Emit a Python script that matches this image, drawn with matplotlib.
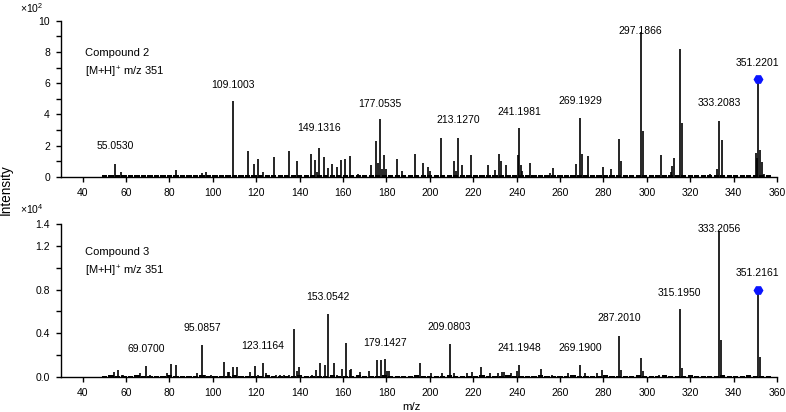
import numpy as np
import matplotlib
matplotlib.use("Agg")
import matplotlib.pyplot as plt

plt.rcParams['font.family'] = ['Liberation Sans', 'DejaVu Sans']
plt.rcParams['mathtext.default'] = 'regular'

# Compound 2 spectrum (intensity x10^2)
c2_mz = [55.05, 57.5, 83.0, 95.0, 97.0, 109.10, 116.0, 119.0, 121.0, 123.0,
         128.0, 135.0, 139.0, 145.0, 147.0, 148.0, 149.13, 151.0, 153.0, 155.0,
         157.0, 159.0, 161.0, 163.0, 167.0, 173.0, 175.0, 176.0, 177.05, 178.0,
         179.0, 180.0, 185.0, 187.0, 193.0, 197.0, 199.0, 200.0, 205.0, 211.0,
         212.0, 213.13, 215.0, 219.0, 227.0, 230.0, 232.0, 233.0, 235.0, 240.4,
         241.20, 242.0, 242.6, 246.0, 255.6, 256.9, 262.7, 267.4, 269.19, 270.2,
         273.0, 280.0, 283.5, 287.2, 288.2, 297.19, 298.2, 306.5, 311.1, 311.6,
         312.5, 315.2, 316.2, 320.0, 327.0, 329.0, 332.3, 333.21, 334.5, 341.5,
         347.0, 350.3, 350.8, 352.2, 353.1, 354.0]
c2_int = [0.80, 0.35, 0.43, 0.25, 0.30, 4.85, 1.67, 0.85, 1.18, 0.30,
          1.28, 1.67, 1.03, 1.50, 1.10, 0.35, 1.86, 1.28, 0.60, 0.85,
          0.65, 1.07, 1.18, 1.32, 0.20, 0.75, 2.29, 0.90, 3.70, 0.50,
          1.43, 0.50, 1.15, 0.40, 1.47, 0.90, 0.65, 0.40, 2.50, 1.05,
          0.40, 2.50, 0.75, 1.43, 0.75, 0.45, 1.47, 1.05, 0.75, 1.43,
          3.12, 0.75, 0.40, 0.88, 0.25, 0.58, 0.15, 0.80, 3.78, 1.47,
          1.37, 0.62, 0.50, 2.44, 1.05, 9.27, 2.97, 1.43, 0.35, 0.68,
          1.22, 8.16, 3.46, 0.15, 0.15, 0.20, 0.53, 3.61, 2.35, 0.15,
          0.15, 1.54, 1.20, 1.75, 0.96, 0.20]
c2_prec_mz = 351.22
c2_prec_int = 6.24
c2_prec_label = '351.2201'
c2_labels = ['55.0530', '109.1003', '149.1316', '177.0535', '213.1270',
             '241.1981', '269.1929', '297.1866', '333.2083']
c2_label_mz = [55.05, 109.10, 149.13, 177.05, 213.13, 241.20, 269.19, 297.19, 333.21]
c2_label_int = [0.80, 4.85, 1.86, 3.70, 2.50, 3.12, 3.78, 9.27, 3.61]

# Compound 3 spectrum (intensity x10^4)
c3_mz = [54.4, 56.1, 57.9, 58.5, 66.4, 69.07, 70.9, 78.9, 80.8, 83.1,
         92.6, 95.09, 96.3, 99.2, 105.2, 107.0, 107.5, 109.2, 111.2, 117.2,
         119.5, 120.9, 123.12, 124.6, 129.0, 131.0, 133.0, 135.0, 137.4, 138.8,
         139.5, 145.7, 147.7, 149.2, 151.5, 153.05, 155.7, 157.1, 159.5, 161.4,
         163.1, 163.7, 167.7, 171.8, 175.7, 177.5, 179.14, 180.1, 181.0, 195.6,
         200.5, 205.4, 209.08, 211.3, 217.3, 219.5, 223.4, 227.6, 231.4, 233.4,
         234.2, 237.2, 240.3, 241.19, 251.3, 256.3, 263.6, 269.19, 271.5, 277.0,
         279.3, 287.20, 288.2, 297.4, 298.3, 305.4, 308.9, 315.20, 316.2, 333.21,
         334.2, 335.8, 352.2]
c3_int = [0.046, 0.06, 0.02, 0.02, 0.03, 0.10, 0.02, 0.03, 0.12, 0.11,
          0.03, 0.29, 0.02, 0.02, 0.135, 0.04, 0.04, 0.085, 0.085, 0.04,
          0.10, 0.02, 0.13, 0.03, 0.015, 0.015, 0.02, 0.02, 0.44, 0.05,
          0.09, 0.02, 0.06, 0.13, 0.11, 0.58, 0.13, 0.02, 0.07, 0.31,
          0.06, 0.07, 0.04, 0.05, 0.15, 0.15, 0.16, 0.05, 0.05, 0.13,
          0.03, 0.03, 0.30, 0.03, 0.03, 0.04, 0.09, 0.03, 0.03, 0.04,
          0.04, 0.03, 0.05, 0.11, 0.07, 0.02, 0.03, 0.11, 0.03, 0.03,
          0.06, 0.37, 0.06, 0.17, 0.05, 0.02, 0.02, 0.62, 0.08, 1.34,
          0.34, 0.02, 0.18]
c3_prec_mz = 351.22
c3_prec_int = 0.80
c3_prec_label = '351.2161'
c3_labels = ['69.0700', '95.0857', '123.1164', '153.0542', '179.1427', '209.0803',
             '241.1948', '269.1900', '287.2010', '315.1950', '333.2056']
c3_label_mz = [69.07, 95.09, 123.12, 153.05, 179.14, 209.08, 241.19, 269.19, 287.20, 315.20, 333.21]
c3_label_int = [0.10, 0.29, 0.13, 0.58, 0.16, 0.30, 0.11, 0.11, 0.37, 0.62, 1.34]

# baseline noise
noise_mz = [50, 53, 56, 59, 62, 65, 68, 71, 74, 77,
            80, 83, 86, 89, 92, 95, 98, 101, 104, 107,
            110, 113, 116, 119, 122, 125, 128, 131, 134, 137,
            140, 143, 146, 149, 152, 155, 158, 161, 164, 167,
            170, 173, 176, 179, 182, 185, 188, 191, 194, 197,
            200, 203, 206, 209, 212, 215, 218, 221, 224, 227,
            230, 233, 236, 239, 242, 245, 248, 251, 254, 257,
            260, 263, 266, 269, 272, 275, 278, 281, 284, 287,
            290, 293, 296, 299, 302, 305, 308, 311, 314, 317,
            320, 323, 326, 329, 332, 335, 338, 341, 344, 347,
            350, 353, 356]
noise_c2 = [0.12, 0.10, 0.14, 0.11, 0.13, 0.10, 0.12, 0.11, 0.13, 0.10,
            0.12, 0.14, 0.10, 0.11, 0.12, 0.15, 0.11, 0.10, 0.13, 0.12,
            0.11, 0.13, 0.10, 0.12, 0.14, 0.11, 0.10, 0.12, 0.13, 0.11,
            0.10, 0.12, 0.14, 0.12, 0.11, 0.13, 0.10, 0.12, 0.11, 0.13,
            0.12, 0.10, 0.14, 0.12, 0.11, 0.10, 0.13, 0.12, 0.11, 0.10,
            0.12, 0.13, 0.11, 0.10, 0.12, 0.14, 0.11, 0.13, 0.10, 0.12,
            0.11, 0.13, 0.12, 0.10, 0.12, 0.11, 0.13, 0.10, 0.12, 0.11,
            0.13, 0.10, 0.12, 0.14, 0.11, 0.10, 0.12, 0.13, 0.11, 0.12,
            0.10, 0.13, 0.11, 0.12, 0.10, 0.12, 0.11, 0.13, 0.12, 0.10,
            0.12, 0.11, 0.10, 0.13, 0.12, 0.11, 0.10, 0.12, 0.11, 0.13,
            0.12, 0.14, 0.12]
noise_c3 = [0.010, 0.012, 0.008, 0.011, 0.009, 0.012, 0.010, 0.008, 0.011, 0.010,
            0.012, 0.009, 0.010, 0.011, 0.008, 0.012, 0.010, 0.009, 0.011, 0.010,
            0.012, 0.009, 0.011, 0.010, 0.008, 0.012, 0.010, 0.011, 0.009, 0.010,
            0.012, 0.010, 0.009, 0.011, 0.010, 0.012, 0.008, 0.011, 0.010, 0.012,
            0.009, 0.011, 0.010, 0.012, 0.010, 0.009, 0.011, 0.010, 0.012, 0.008,
            0.011, 0.010, 0.009, 0.012, 0.010, 0.011, 0.008, 0.010, 0.012, 0.009,
            0.011, 0.010, 0.012, 0.009, 0.010, 0.011, 0.008, 0.012, 0.010, 0.009,
            0.011, 0.010, 0.012, 0.009, 0.011, 0.010, 0.008, 0.012, 0.010, 0.011,
            0.009, 0.010, 0.012, 0.011, 0.009, 0.010, 0.012, 0.008, 0.011, 0.010,
            0.012, 0.009, 0.010, 0.011, 0.010, 0.012, 0.009, 0.011, 0.010, 0.012,
            0.010, 0.011, 0.009]

fig = plt.figure(figsize=(7.86, 4.12), dpi=100)
ax1 = fig.add_axes([61 / 786, 235 / 412, 716 / 786, 156.3 / 412])
ax2 = fig.add_axes([61 / 786, 35.3 / 412, 716 / 786, 152.4 / 412])

fs = 7.5


def draw_panel(ax, mz, inten, noise, prec_mz, prec_int, prec_label,
               labels, lab_mz, lab_int, ymax, offsets, title, yticks, yminor):
    ax.bar(noise_mz, noise, width=2.4, color='black', linewidth=0)
    ax.vlines(mz, 0, inten, color='black', linewidth=1.2)
    ax.vlines([prec_mz], 0, [prec_int], color='black', linewidth=1.2)
    ax.plot([prec_mz], [prec_int], marker='H', color='#0a14ff', markersize=6,
            clip_on=False, zorder=5)
    for lab, x, y, off in zip(labels, lab_mz, lab_int, offsets):
        ax.annotate(lab, (x, y), xytext=(0, off), textcoords='offset points',
                    ha='center', va='center', fontsize=fs, annotation_clip=False)
    ax.annotate(prec_label, (prec_mz, prec_int), xytext=(0, 12),
                textcoords='offset points', ha='center', va='center',
                fontsize=fs, annotation_clip=False)
    ax.set_xlim(30, 360)
    ax.set_ylim(0, ymax)
    ax.set_xticks(np.arange(40, 361, 20))
    ax.set_yticks(yticks)
    ax.set_yticks(yminor, minor=True)
    for s in ['top', 'right']:
        ax.spines[s].set_visible(False)
    for s in ['left', 'bottom']:
        ax.spines[s].set_linewidth(1.0)
    ax.tick_params(which='both', direction='out', length=3.5, width=1.0,
                   labelsize=fs, pad=4.5)
    ax.text(0.034, title[1], title[0], transform=ax.transAxes, fontsize=8,
            va='center', ha='left')
    ax.text(0.034, title[2], '[M+H]$^{+}$ m/z 351', transform=ax.transAxes,
            fontsize=8, va='center', ha='left')


c2_offsets = [13, 12, 14, 11, 13, 12, 12, 1, 13]
draw_panel(ax1, c2_mz, c2_int, noise_c2, c2_prec_mz, c2_prec_int, c2_prec_label,
           c2_labels, c2_label_mz, c2_label_int, 10, c2_offsets,
           ('Compound 2', 0.795, 0.67), [0, 2, 4, 6, 8, 10], [1, 3, 5, 7, 9])

c3_offsets = [12, 12, 12, 12, 12, 12, 12, 12, 13, 12, 1]
draw_panel(ax2, c3_mz, c3_int, noise_c3, c3_prec_mz, c3_prec_int, c3_prec_label,
           c3_labels, c3_label_mz, c3_label_int, 1.4, c3_offsets,
           ('Compound 3', 0.82, 0.694), [0.0, 0.4, 0.8, 1.2, 1.4], [0.2, 0.6, 1.0])
ax2.set_yticklabels(['0.0', '0.4', '0.8', '1.2', '1.4'])

fig.text(20 / 786, 1 - 8 / 412, '×10$^{2}$', fontsize=fs, ha='left', va='center')
fig.text(20 / 786, 1 - 209 / 412, '×10$^{4}$', fontsize=fs, ha='left', va='center')
fig.text(6 / 786, 1 - 190 / 412, 'Intensity', rotation=90, fontsize=9.8,
         ha='center', va='center')
fig.text(411 / 786, 5 / 412, 'm/z', fontsize=8.2, ha='center', va='center')

fig.savefig('out.png', dpi=100)
